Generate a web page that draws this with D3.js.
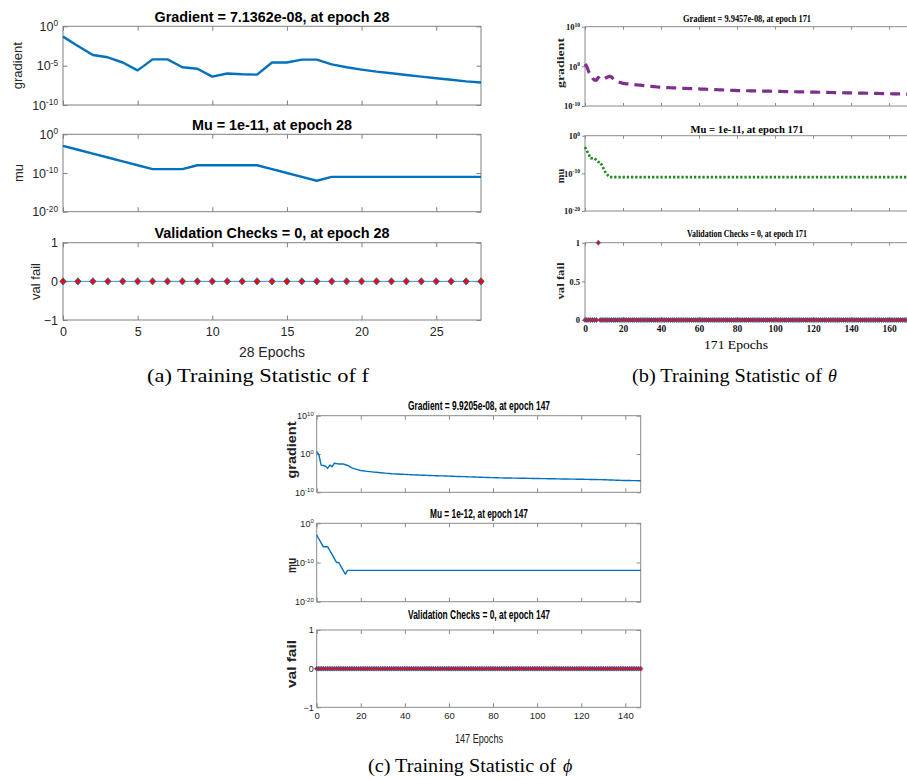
<!DOCTYPE html>
<html><head><meta charset="utf-8">
<script src="https://cdn.jsdelivr.net/npm/d3@7"></script>
<style>body{margin:0;background:#fff} svg{display:block}</style>
</head><body>
<svg id="c" width="907" height="780"></svg>
<script>
// ===== DATA (log10 values for gradient and mu; index = epoch) =====
// (a) Training Statistic of f — 28 epochs
const gradientA_log10 = [-1.31,-2.5,-3.64,-3.94,-4.6,-5.6,-4.2,-4.2,-5.2,-5.4,-6.4,-6.0,-6.1,-6.14,-4.6,-4.6,-4.24,-4.24,-4.83,-5.2,-5.5,-5.76,-5.97,-6.19,-6.4,-6.6,-6.8,-7.0,-7.15];
const muA_log10 = [-3,-4,-5,-6,-7,-8,-9,-9,-9,-8,-8,-8,-8,-8,-9,-10,-11,-12,-11,-11,-11,-11,-11,-11,-11,-11,-11,-11,-11];
const valFailA = [0,0,0,0,0,0,0,0,0,0,0,0,0,0,0,0,0,0,0,0,
  0,0,0,0,0,0,0,0,0];

// (b) Training Statistic of theta — 171 epochs
const gradientB_log10 = [0.6,-0.1,-1.4,-2.2,-3.0,-3.5,-3.5,-2.8,-3.2,-3.4,-3.2,-2.9,-2.7,-2.5,-2.7,-3.2,-3.5,-3.8,-4.0,-4.1,-4.3,
  -4.35,-4.4,-4.45,-4.5,-4.55,-4.6,-4.65,-4.7,-4.75,-4.8,-4.85,-4.9,-4.95,-5.0,-5.05,-5.1,-5.15,-5.2,-5.25,-5.3,
  -5.32,-5.34,-5.36,-5.38,-5.4,-5.42,-5.44,-5.46,-5.48,-5.5,-5.52,-5.54,-5.56,-5.58,-5.6,-5.62,-5.64,-5.66,-5.68,-5.7,
  -5.72,-5.74,-5.76,-5.78,-5.8,-5.82,-5.84,-5.86,-5.88,-5.9,-5.92,-5.94,-5.96,-5.98,-6.0,-6.02,-6.04,-6.06,-6.08,-6.1,
  -6.11,-6.12,-6.13,-6.14,-6.15,-6.16,-6.17,-6.18,-6.19,-6.2,-6.21,-6.22,-6.23,-6.24,-6.25,-6.26,-6.27,-6.28,-6.29,-6.3,-6.31,-6.32,-6.33,-6.34,
  -6.35,-6.36,-6.37,-6.38,-6.39,-6.4,-6.41,-6.42,-6.43,-6.44,-6.45,-6.46,-6.47,-6.48,-6.49,-6.5,-6.51,-6.52,-6.53,-6.54,-6.55,-6.56,-6.57,
  -6.58,-6.59,-6.6,-6.61,-6.62,-6.63,-6.64,-6.65,-6.66,-6.67,-6.68,-6.69,-6.7,-6.71,-6.72,-6.73,-6.74,-6.75,-6.76,-6.77,-6.78,
  -6.79,-6.8,-6.81,-6.82,-6.83,-6.84,-6.85,-6.86,-6.87,-6.88,-6.89,-6.9,-6.91,-6.92,-6.93,-6.94,-6.95,-6.96,-6.97,-6.98,-6.99,-7.0,-7.0];
const muB_log10 = [-3,-4,-5,-6,-6,-6,-6.5,-7,-7,-8,-9,-10,-10.5,-11,
  -11,-11,-11,-11,-11,-11,-11,-11,-11,-11,-11,-11,-11,-11,-11,-11,-11,-11,-11,-11,
  -11,-11,-11,-11,-11,-11,-11,-11,-11,-11,-11,-11,-11,-11,-11,-11,-11,-11,-11,-11,
  -11,-11,-11,-11,-11,-11,-11,-11,-11,-11,-11,-11,-11,-11,-11,-11,-11,-11,-11,-11,
  -11,-11,-11,-11,-11,-11,-11,-11,-11,-11,-11,-11,-11,-11,-11,-11,-11,-11,-11,-11,
  -11,-11,-11,-11,-11,-11,-11,-11,-11,-11,-11,-11,-11,-11,-11,-11,-11,-11,-11,-11,
  -11,-11,-11,-11,-11,-11,-11,-11,-11,-11,-11,-11,-11,-11,-11,-11,-11,-11,-11,-11,
  -11,-11,-11,-11,-11,-11,-11,-11,-11,-11,-11,-11,-11,-11,-11,-11,-11,-11,-11,-11,
  -11,-11,-11,-11,-11,-11,-11,-11,-11,-11,-11,-11,-11,-11,-11,-11,-11,-11];
const valFailB = [0,0,0,0,0,0,0,1,0,0,0,0,0,0,0,0,0,0,0,0,
  0,0,0,0,0,0,0,0,0,0,0,0,0,0,0,0,0,0,0,0,
  0,0,0,0,0,0,0,0,0,0,0,0,0,0,0,0,0,0,0,0,
  0,0,0,0,0,0,0,0,0,0,0,0,0,0,0,0,0,0,0,0,
  0,0,0,0,0,0,0,0,0,0,0,0,0,0,0,0,0,0,0,0,
  0,0,0,0,0,0,0,0,0,0,0,0,0,0,0,0,0,0,0,0,
  0,0,0,0,0,0,0,0,0,0,0,0,0,0,0,0,0,0,0,0,
  0,0,0,0,0,0,0,0,0,0,0,0,0,0,0,0,0,0,0,0,
  0,0,0,0,0,0,0,0,0,0,0,0];

// (c) Training Statistic of phi — 147 epochs
const gradientC_log10 = [0.6,-0.2,-2.9,-3.0,-3.2,-3.7,-2.9,-3.3,-2.4,-2.5,-2.6,-2.6,-2.6,-2.8,-3.0,-3.3,-3.6,-3.8,-4.0,-4.15,-4.3,
  -4.38,-4.46,-4.54,-4.6,-4.66,-4.72,-4.78,-4.84,-4.9,-4.95,-5.0,-5.05,-5.1,-5.15,
  -5.18,-5.21,-5.24,-5.27,-5.3,-5.33,-5.36,-5.39,-5.42,-5.45,-5.48,-5.5,-5.52,-5.54,-5.56,-5.58,-5.6,-5.62,-5.64,-5.66,-5.68,-5.7,-5.72,-5.74,-5.76,-5.78,
  -5.8,-5.82,-5.84,-5.86,-5.88,-5.9,-5.92,-5.94,-5.96,-5.98,-6.0,-6.02,-6.04,-6.06,-6.08,-6.1,-6.12,-6.14,-6.16,-6.18,-6.2,-6.22,
  -6.23,-6.24,-6.25,-6.26,-6.27,-6.28,-6.29,-6.3,-6.31,-6.32,-6.33,-6.34,-6.35,-6.36,-6.37,-6.38,-6.39,-6.4,-6.41,-6.42,-6.43,-6.44,-6.45,
  -6.46,-6.47,-6.48,-6.49,-6.5,-6.51,-6.52,-6.53,-6.54,-6.55,-6.56,-6.57,-6.58,-6.59,-6.6,-6.61,-6.62,-6.63,-6.64,-6.65,-6.66,-6.67,-6.68,
  -6.7,-6.72,-6.74,-6.76,-6.78,-6.8,-6.82,-6.84,-6.86,-6.88,-6.9,-6.91,-6.92,-6.93,-6.94,-6.95,-6.96,-6.98,-7.0];
const muC_log10 = [-3,-4,-5,-6,-6,-6,-7,-8,-9,-10,-10,-11,-12,-13,
  -12,-12,-12,-12,-12,-12,-12,-12,-12,-12,-12,-12,-12,-12,-12,-12,-12,-12,-12,-12,
  -12,-12,-12,-12,-12,-12,-12,-12,-12,-12,-12,-12,-12,-12,-12,-12,-12,-12,-12,-12,
  -12,-12,-12,-12,-12,-12,-12,-12,-12,-12,-12,-12,-12,-12,-12,-12,-12,-12,-12,-12,
  -12,-12,-12,-12,-12,-12,-12,-12,-12,-12,-12,-12,-12,-12,-12,-12,-12,-12,-12,-12,
  -12,-12,-12,-12,-12,-12,-12,-12,-12,-12,-12,-12,-12,-12,-12,-12,-12,-12,-12,-12,
  -12,-12,-12,-12,-12,-12,-12,-12,-12,-12,-12,-12,-12,-12,-12,-12,-12,-12,-12,-12,
  -12,-12,-12,-12,-12,-12,-12,-12,-12,-12,-12,-12,-12,-12];
const valFailC = [0,0,0,0,0,0,0,0,0,0,0,0,0,0,0,0,0,0,0,0,
  0,0,0,0,0,0,0,0,0,0,0,0,0,0,0,0,0,0,0,0,
  0,0,0,0,0,0,0,0,0,0,0,0,0,0,0,0,0,0,0,0,
  0,0,0,0,0,0,0,0,0,0,0,0,0,0,0,0,0,0,0,0,
  0,0,0,0,0,0,0,0,0,0,0,0,0,0,0,0,0,0,0,0,
  0,0,0,0,0,0,0,0,0,0,0,0,0,0,0,0,0,0,0,0,
  0,0,0,0,0,0,0,0,0,0,0,0,0,0,0,0,0,0,0,0,
  0,0,0,0,0,0,0,0];

// Tick values & labels
const xTicksA = [0,5,10,15,20,25];
const xTicksB = [0,20,40,60,80,100,120,140,160];
const xTicksC = [0,20,40,60,80,100,120,140];
const gradTicksA = [1e-10,1e-5,1];
const gradTicksBC = [1e-10,1,1e10];
const muTicks = [1e-20,1e-10,1];
const valTicksAC = [-1,0,1];
const valTicksB = [0,0.5,1];

const titlesA = ["Gradient = 7.1362e-08, at epoch 28","Mu = 1e-11, at epoch 28","Validation Checks = 0, at epoch 28"];
const titlesB = ["Gradient = 9.9457e-08, at epoch 171","Mu = 1e-11, at epoch 171","Validation Checks = 0, at epoch 171"];
const titlesC = ["Gradient = 9.9205e-08, at epoch 147","Mu = 1e-12, at epoch 147","Validation Checks = 0, at epoch 147"];
const yLabels = ["gradient","mu","val fail"];

// ===== DRAWING =====
const svg = d3.select("#c");
svg.append("rect").attr("width",907).attr("height",780).attr("fill","#fff");

const BLUE = "#0072BD", RED = "#ff0000";
const diamond = { draw(ctx, size) { const r = Math.sqrt(size)/2; ctx.moveTo(0,-r*1.12); ctx.lineTo(r,0); ctx.lineTo(0,r*1.12); ctx.lineTo(-r,0); ctx.closePath(); } };

const STY = {
  A: {font:"'Liberation Sans', Arial, Helvetica, sans-serif", tick:12.5, xtick:12.5, tickWeight:"normal", tickColor:"#262626",
      tickLen:4.5, frame:"#808080", xPad:7, yPad:5, yOut:false,
      titleSize:14, ylab:13, ylabColor:"#262626", xlab:14},
  B: {font:"'Liberation Serif', 'Times New Roman', serif", tick:8.5, xtick:9.5, tickWeight:"bold", tickColor:"#111",
      tickLen:3, frame:"#8a8a8a", xPad:5, yPad:2, yOut:true,
      titleSize:10.5, ylab:10.5, ylabColor:"#222", xlab:11.5},
  C: {font:"'Liberation Sans', Arial, sans-serif", tick:9, xtick:9.5, tickWeight:"normal", tickColor:"#222",
      tickLen:4, frame:"#8a8a8a", xPad:5, yPad:3, yOut:false,
      titleSize:12, ylab:12, ylabColor:"#222", xlab:12}
};

function txt(s, str, x, y, size, weight, opts={}) {
  const t = svg.append("text").attr("x",x).attr("y",y).attr("text-anchor",opts.anchor || "middle")
    .attr("font-family", opts.family || s.font).attr("font-size",size).attr("font-weight",weight)
    .attr("fill", opts.fill || "#000").text(str);
  if (opts.rotate) t.attr("transform",`rotate(-90,${x},${y})`);
  if (opts.italic) t.attr("font-style","italic");
  if (opts.len) t.attr("textLength",opts.len).attr("lengthAdjust","spacingAndGlyphs");
  return t;
}

function panel(c) {
  const s = c.sty;
  const w = c.x1 - c.x0, h = c.y1 - c.y0;
  const g = svg.append("g").attr("transform",`translate(${c.x0},${c.y0})`);
  const x = d3.scaleLinear().domain([0,c.xmax]).range([0,w]);
  const y = (c.log ? d3.scaleLog() : d3.scaleLinear()).domain(c.yDomain).range([h,0]);
  const tl = s.tickLen;
  const none = () => "";
  const bottom = g.append("g").attr("transform",`translate(0,${h})`)
    .call(d3.axisBottom(x).tickValues(c.xTicks).tickSizeInner(-tl).tickSizeOuter(0).tickPadding(s.xPad)
      .tickFormat(c.xLabels ? d3.format("d") : none));
  const top = g.append("g").call(d3.axisTop(x).tickValues(c.xTicks).tickSizeInner(-tl).tickSizeOuter(0).tickFormat(none));
  const left = g.append("g").call(d3.axisLeft(y).tickValues(c.yTicks).tickSizeInner(s.yOut ? tl : -tl).tickSizeOuter(0)
      .tickPadding(s.yPad).tickFormat(c.log ? none : d3.format("~g")));
  const right = g.append("g").attr("transform",`translate(${w},0)`)
    .call(d3.axisRight(y).tickValues(c.yTicks).tickSizeInner(-tl).tickSizeOuter(0).tickFormat(none));
  [bottom, top, left, right].forEach(a => {
    a.select(".domain").remove();
    a.selectAll("line").attr("stroke", s.frame);
    a.selectAll("text").attr("font-family", s.font).attr("font-size", a === bottom ? s.xtick : s.tick)
      .attr("font-weight", s.tickWeight).attr("fill", s.tickColor);
  });
  if (c.log) {
    left.selectAll(".tick text").each(function(d) {
      const t = d3.select(this);
      t.append("tspan").text("10");
      t.append("tspan").attr("dy","-0.55em").attr("font-size", s.tick*0.66).text(Math.round(Math.log10(d)));
    });
  }
  g.append("rect").attr("width",w).attr("height",h).attr("fill","none").attr("stroke",s.frame).attr("stroke-width",1);

  if (c.kind === "line") {
    g.append("path").datum(c.values)
      .attr("d", d3.line().x((d,i) => x(i)).y(d => y(Math.pow(10,d))))
      .attr("fill","none").attr("stroke",c.color).attr("stroke-width",c.width)
      .attr("stroke-dasharray", c.dash || null).attr("stroke-linejoin","round");
  } else {
    g.append("path").datum(c.values)
      .attr("d", d3.line().defined(d => d === 0).x((d,i) => x(i)).y(d => y(d)))
      .attr("fill","none").attr("stroke",BLUE).attr("stroke-width",1).attr("opacity",0.8);
    g.selectAll("path.mk").data(c.values).join("path").attr("class","mk")
      .attr("transform",(d,i) => `translate(${x(i)},${y(d)})`)
      .attr("d", d3.symbol(diamond, c.msize))
      .attr("fill",RED).attr("stroke",BLUE).attr("stroke-width",c.mstroke);
  }
}

const CAP = "'Liberation Serif', 'Times New Roman', serif";

// ---- (a) ----
const sA = STY.A;
panel({sty:sA, x0:63, x1:481, y0:26.3, y1:105, xmax:28, xTicks:xTicksA, xLabels:false, log:true,
  yDomain:[1e-10,1], yTicks:gradTicksA, kind:"line", values:gradientA_log10, color:BLUE, width:2.4});
panel({sty:sA, x0:63, x1:481, y0:134.3, y1:211.7, xmax:28, xTicks:xTicksA, xLabels:false, log:true,
  yDomain:[1e-20,1], yTicks:muTicks, kind:"line", values:muA_log10, color:BLUE, width:2.4});
panel({sty:sA, x0:63, x1:481, y0:242.7, y1:320, xmax:28, xTicks:xTicksA, xLabels:true, log:false,
  yDomain:[-1,1], yTicks:valTicksAC, kind:"val", values:valFailA, msize:42, mstroke:0.8});
txt(sA, titlesA[0], 272, 21.5, sA.titleSize, "bold", {len:235});
txt(sA, titlesA[1], 272, 130, sA.titleSize, "bold", {len:160});
txt(sA, titlesA[2], 272, 238, sA.titleSize, "bold", {len:235});
txt(sA, yLabels[0], 22.5, 65.7, sA.ylab, "normal", {rotate:true, fill:sA.ylabColor});
txt(sA, yLabels[1], 22.5, 173, sA.ylab, "normal", {rotate:true, fill:sA.ylabColor});
txt(sA, yLabels[2], 39.5, 281.5, sA.ylab, "normal", {rotate:true, fill:sA.ylabColor});
txt(sA, "28 Epochs", 272, 356.5, sA.xlab, "normal", {fill:"#262626"});
txt(sA, "(a) Training Statistic of f", 147, 381.5, 18, "normal", {family:CAP, anchor:"start", len:222});

// ---- (b) ----
const sB = STY.B;
panel({sty:sB, x0:585, x1:910, y0:26.7, y1:106, xmax:171, xTicks:xTicksB, xLabels:false, log:true,
  yDomain:[1e-10,1e10], yTicks:gradTicksBC, kind:"line", values:gradientB_log10, color:"#7E2F8E", width:3.2, dash:"10,6"});
panel({sty:sB, x0:585, x1:910, y0:135.7, y1:211, xmax:171, xTicks:xTicksB, xLabels:false, log:true,
  yDomain:[1e-20,1], yTicks:muTicks, kind:"line", values:muB_log10, color:"#1f8a1f", width:2.6, dash:"2.3,1.9"});
panel({sty:sB, x0:585, x1:910, y0:242.7, y1:320, xmax:171, xTicks:xTicksB, xLabels:true, log:false,
  yDomain:[0,1], yTicks:valTicksB, kind:"val", values:valFailB, msize:20, mstroke:0.7});
txt(sB, titlesB[0], 747, 22, sB.titleSize, "bold", {len:128});
txt(sB, titlesB[1], 747, 132.5, sB.titleSize, "bold", {len:113});
txt(sB, titlesB[2], 747, 237, sB.titleSize, "bold", {len:120});
txt(sB, yLabels[0], 563.5, 63, sB.ylab, "bold", {rotate:true, fill:sB.ylabColor, len:50});
txt(sB, yLabels[1], 563.5, 176, sB.ylab, "bold", {rotate:true, fill:sB.ylabColor});
txt(sB, yLabels[2], 563.5, 281, sB.ylab, "bold", {rotate:true, fill:sB.ylabColor, len:37});
txt(sB, "171 Epochs", 736, 348.5, sB.xlab, "normal", {len:64});
txt(sB, "(b) Training Statistic of", 632, 382, 18, "normal", {family:CAP, anchor:"start", len:190});
txt(sB, "θ", 828, 382, 18, "normal", {family:CAP, anchor:"start", italic:true});

// ---- (c) ----
const sC = STY.C;
panel({sty:sC, x0:316.7, x1:640.7, y0:415.7, y1:492.3, xmax:147, xTicks:xTicksC, xLabels:false, log:true,
  yDomain:[1e-10,1e10], yTicks:gradTicksBC, kind:"line", values:gradientC_log10, color:BLUE, width:1.4});
panel({sty:sC, x0:316.7, x1:640.7, y0:523.3, y1:601.7, xmax:147, xTicks:xTicksC, xLabels:false, log:true,
  yDomain:[1e-20,1], yTicks:muTicks, kind:"line", values:muC_log10, color:BLUE, width:1.4});
panel({sty:sC, x0:316.7, x1:640.7, y0:630, y1:707.3, xmax:147, xTicks:xTicksC, xLabels:true, log:false,
  yDomain:[-1,1], yTicks:valTicksAC, kind:"val", values:valFailC, msize:20, mstroke:0.7});
txt(sC, titlesC[0], 479, 409.5, sC.titleSize, "bold", {len:142});
txt(sC, titlesC[1], 479, 517.5, sC.titleSize, "bold", {len:98});
txt(sC, titlesC[2], 479, 618.5, sC.titleSize, "bold", {len:142});
txt(sC, yLabels[0], 296, 450, sC.ylab, "bold", {rotate:true, fill:sC.ylabColor, len:57});
txt(sC, yLabels[1], 296, 565.5, sC.ylab, "bold", {rotate:true, fill:sC.ylabColor, len:15});
txt(sC, yLabels[2], 296, 664, sC.ylab, "bold", {rotate:true, fill:sC.ylabColor, len:48});
txt(sC, "147 Epochs", 479, 742.5, sC.xlab, "normal", {len:48, fill:"#222"});
txt(sC, "(c) Training Statistic of", 368, 772, 18, "normal", {family:CAP, anchor:"start", len:188});
txt(sC, "ϕ", 563, 772, 18, "normal", {family:CAP, anchor:"start", italic:true});
</script>
</body></html>
